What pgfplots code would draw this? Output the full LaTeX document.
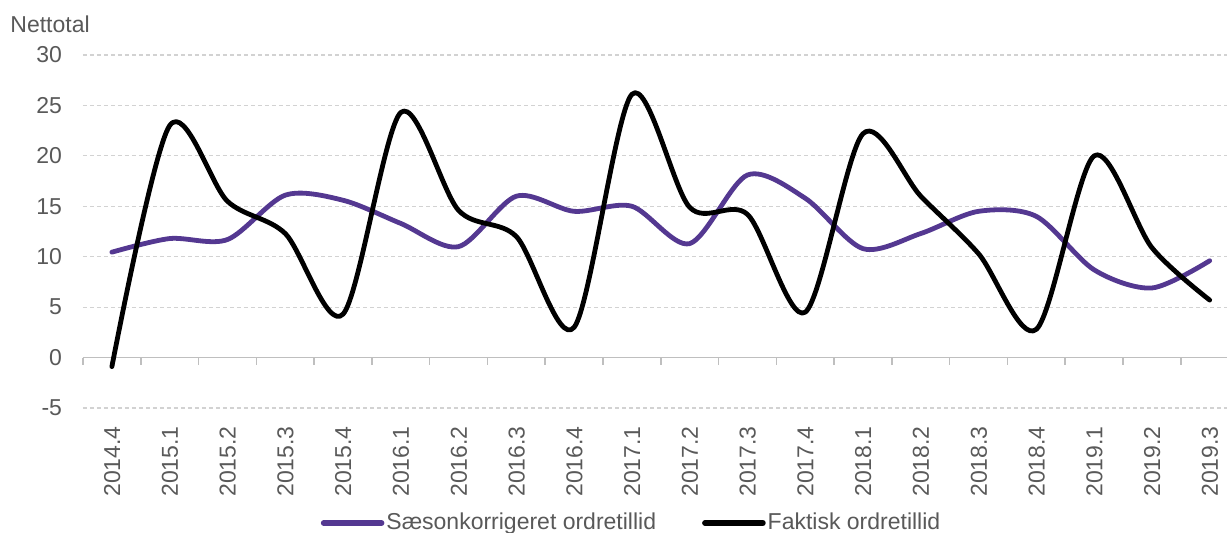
\documentclass[border=0pt]{standalone}
\usepackage{pgfplots}
\pgfplotsset{compat=1.18}
\usepackage{fontspec}
\setmainfont{Liberation Sans}

\definecolor{sapurple}{RGB}{84,56,145}
\definecolor{txtgray}{RGB}{89,89,89}
\definecolor{gridgray}{RGB}{210,210,210}
\definecolor{axgray}{RGB}{191,191,191}

% Nettotal, saesonkorrigeret og faktisk
\pgfplotstableread{
x sa  fak
0  10.45 -0.9
1  11.8  23.0
2  11.7  15.5
3  16.1  12.3
4  15.6   4.3
5  13.3  24.3
6  11.0  14.6
7  16.0  12.0
8  14.5   3.0
9  15.0  26.1
10 11.3  14.9
11 18.1  14.2
12 15.8   4.5
13 10.8  22.2
14 12.3  16.0
15 14.5  10.3
16 14.0   2.8
17  8.7  20.0
18  6.9  10.9
19  9.6   5.7
}\ordre

\begin{document}
\begin{tikzpicture}[font=\fontsize{11.5}{13}\selectfont]
\useasboundingbox (-41.5pt,-62.5pt) rectangle (572pt,204pt);
\begin{axis}[
    scale only axis,
    width=572pt, height=176.5pt,
    xmin=-0.5, xmax=19.3,
    ymin=-5, ymax=30,
    xtick={0,...,19},
    xticklabels={2014.4,2015.1,2015.2,2015.3,2015.4,2016.1,2016.2,2016.3,2016.4,2017.1,2017.2,2017.3,2017.4,2018.1,2018.2,2018.3,2018.4,2019.1,2019.2,2019.3},
    ytick={-5,0,...,30},
    yticklabels={-5,0,5,10,15,20,25,30},
    major tick length=0pt,
    axis line style={draw=none},
    ymajorgrids,
    major grid style={gridgray, line width=0.6pt, dash pattern=on 2pt off 1.5pt},
    tick label style={text=txtgray},
    xticklabel shift=9pt,
    xticklabel style={rotate=90, anchor=east, inner sep=0pt, text height=8.2pt, text depth=0pt},
    yticklabel style={anchor=east, inner sep=0pt, xshift=-10.3pt},
    clip=false,
    legend style={at={(0.4795,0)}, anchor=center, yshift=-57.5pt, draw=none,
        text=txtgray, nodes={inner sep=1pt},
        /tikz/every even column/.append style={column sep=22pt}},
    legend columns=2,
    legend image code/.code={\draw[#1, line width=2.8pt] (0pt,0pt) -- (29pt,0pt);},
]
\draw[axgray, line width=0.8pt] (axis cs:-0.5,0) -- (axis cs:19.3,0);
\pgfplotsinvokeforeach{-0.5,0.5,...,18.5}{
  \draw[axgray, line width=0.8pt] (axis cs:#1,0) -- ++(0pt,-3.5pt);
}
\addplot[sapurple, line width=2.4pt, smooth, line cap=round, line join=round] table[x=x, y=sa] {\ordre};
\addlegendentry{Sæsonkorrigeret ordretillid}
\addplot[black, line width=2.4pt, smooth, line cap=round, line join=round] table[x=x, y=fak] {\ordre};
\addlegendentry{Faktisk ordretillid}
\end{axis}
\node[anchor=base west, text=txtgray, inner sep=0pt] at (-36.5pt,187.9pt) {Nettotal};
\end{tikzpicture}
\end{document}
